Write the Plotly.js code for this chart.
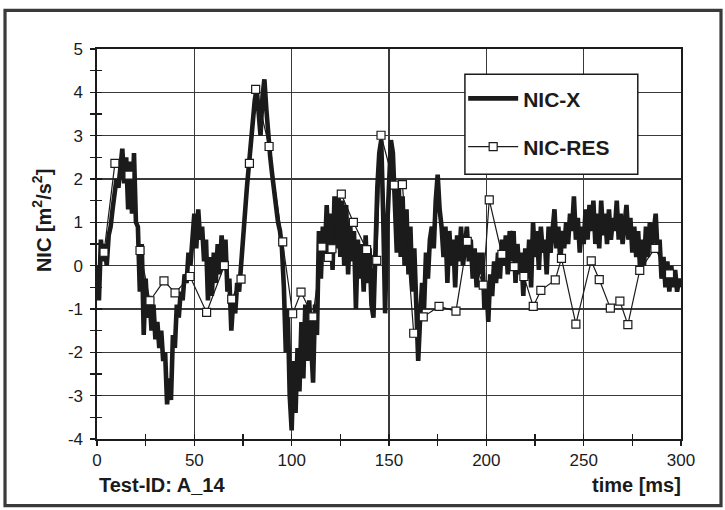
<!DOCTYPE html>
<html>
<head>
<meta charset="utf-8">
<script src="https://cdn.plot.ly/plotly-3.0.1.min.js"></script>
<style>
  html, body { margin: 0; padding: 0; background: #ffffff; }
  #chart { width: 725px; height: 510px; }
</style>
</head>
<body>
<div id="chart"></div>
<script>
// NIC-X, sampled every 1 ms from 0 to 300 ms
const nicXTime = Array.from({length: 301}, (_, i) => i);
const nicXValues = [
  0.0, -0.8, 0.6, 0.1, 0.5, 0.0, 0.7, 0.9, 1.3, 1.6,
  2.0, 1.8, 2.4, 2.7, 1.9, 2.5, 1.3, 2.4, 1.2, 2.6,
  1.0, 0.9, -0.6, 0.5, -1.6, -0.3, -1.2, -0.7, -1.5, -0.9,
  -1.7, -1.3, -1.9, -1.5, -2.2, -2.0, -3.2, -2.6, -3.1, -1.6,
  -1.9, -0.9, -1.2, -0.6, -0.8, -0.2, -0.4, 0.3, 0.0, 0.5,
  1.2, 0.4, 1.3, 0.6, 0.9, 0.1, 0.6, -0.8, 0.2, -0.7,
  0.3, -0.4, 0.5, -0.2, 0.7, 0.1, 0.6, -0.6, -0.3, -1.5,
  -0.8, -1.1, -0.4, -0.6, 0.1, 0.4, 1.2, 1.8, 2.3, 2.9,
  3.4, 3.8, 4.1, 3.5, 3.0, 3.9, 4.3, 3.6, 2.9, 2.5,
  2.1, 1.7, 1.4, 1.0, 0.8, 0.4, -0.5, -2.0, -1.0, -3.0,
  -3.8, -2.2, -3.4, -1.9, -2.9, -1.3, -2.6, -0.9, -2.2, -0.8,
  -1.8, -2.7, -0.9, -1.6, 0.8, -0.3, 0.9, 0.2, 1.4, 0.3,
  1.2, -0.1, 1.6, 0.4, 1.6, 0.2, 1.5, 0.0, 1.4, -0.2,
  1.0, 0.1, 0.8, -1.0, 0.6, -0.3, 0.5, -0.6, 0.7, -0.4,
  0.4, -0.9, -1.2, 0.5, 1.8, 2.6, 2.9, 1.2, -1.1, 0.8,
  2.0, 2.9, 2.6, 1.4, 0.3, 1.9, 0.2, 1.6, 0.0, 1.3,
  -0.2, 0.9, -0.6, 0.4, -1.4, -2.2, -1.2, -0.4, -1.0, 0.3,
  -0.3, 0.6, 0.9, 0.4, 1.5, 2.1, 1.3, 0.9, 0.2, 0.9,
  -0.4, 0.8, 0.0, 0.6, -0.5, 0.7, 0.1, 0.9, 0.0, 0.5,
  0.9, 0.1, 0.6, -0.3, 0.4, -0.5, 0.3, -0.2, 0.3, -1.0,
  -0.4, -1.3, -0.2, -0.7, 0.1, -0.4, 0.3, -0.3, 0.6, 0.0,
  0.7, -0.2, 0.8, 0.1, 0.8, -0.4, 0.5, -0.2, 0.3, -0.7,
  0.4, -0.3, 0.6, -0.5, 1.0, 0.2, 0.8, -0.1, 0.9, 0.3,
  0.6, -0.2, 0.9, 0.3, 1.0, 1.3, 0.4, 0.9, 0.1, 0.8,
  0.4, 1.0, 0.5, 1.2, 0.8, 1.6, 0.6, 1.1, 0.3, 0.9,
  0.5, 1.3, 0.6, 1.4, 0.8, 1.5, 0.5, 1.2, 0.4, 1.5,
  0.7, 1.2, 0.5, 1.3, 0.6, 1.1, 0.8, 1.5, 0.6, 1.2,
  0.5, 1.0, 1.4, 0.6, 1.1, 0.3, 0.9, 0.2, 0.8, -0.1,
  0.6, 0.0, 0.9, 0.2, 1.0, 0.4, 0.9, 1.2, 0.3, 0.6,
  -0.3, 0.2, -0.5, 0.1, -0.6, 0.0, -0.5, -0.1, -0.6, -0.3,
  -0.5
];

// NIC-RES samples (ms, m²/s²)
const nicResTime = [
  3.6, 9.2, 16.4, 22.1, 27.2, 34.4, 40.1, 47.8, 56.3, 65.4,
  69.2, 74.0, 78.3, 81.5, 88.4, 95.4, 100.5, 104.8, 110.9, 115.6,
  118.8, 120.7, 125.5, 131.7, 138.5, 143.7, 145.9, 152.7, 156.9, 162.7,
  167.6, 175.7, 184.4, 190.2, 198.4, 201.5, 208.0, 214.3, 219.3, 224.1,
  228.0, 235.4, 238.6, 246.0, 253.9, 258.0, 263.7, 268.6, 272.7, 278.8,
  286.6, 294.1
];
const nicResValues = [
  0.31, 2.36, 2.09, 0.35, -0.81, -0.35, -0.63, -0.25, -1.08, 0.00,
  -0.77, -0.31, 2.36, 4.07, 2.75, 0.55, -1.11, -0.61, -1.18, 0.43,
  0.19, 0.39, 1.65, 1.00, 0.37, 0.12, 3.01, 1.86, 1.87, -1.56,
  -1.18, -0.94, -1.05, 0.56, -0.45, 1.52, 0.26, -0.02, -0.25, -0.94,
  -0.57, -0.33, 0.17, -1.35, 0.11, -0.32, -0.98, -0.82, -1.36, -0.11,
  0.40, -0.19
];

const xTickValues = [0, 50, 100, 150, 200, 250, 300];
const yTickValues = [-4, -3, -2, -1, 0, 1, 2, 3, 4, 5];

const FONT = 'Liberation Sans, Arial, Helvetica, sans-serif';
const INK = '#1b1b1b';

const traces = [
  {
    name: 'NIC-X',
    x: nicXTime,
    y: nicXValues,
    type: 'scatter',
    mode: 'lines',
    line: {color: INK, width: 4.6},
    legendgroup: 'a',
    hoverinfo: 'x+y'
  },
  {
    name: 'NIC-RES',
    x: nicResTime,
    y: nicResValues,
    type: 'scatter',
    mode: 'lines+markers',
    line: {color: INK, width: 1.2},
    marker: {symbol: 'square', size: 8, color: '#ffffff', line: {color: INK, width: 1.2}},
    legendgroup: 'b',
    hoverinfo: 'x+y'
  },
  // carrier for the inner half of the crossing ticks
  {
    x: [], y: [], xaxis: 'x2', yaxis: 'y2', type: 'scatter', mode: 'lines',
    showlegend: false, hoverinfo: 'skip'
  }
];

const axisFont = {family: FONT, size: 17, color: INK};

const layout = {
  width: 725,
  height: 510,
  margin: {l: 97, r: 44, t: 49, b: 71},
  paper_bgcolor: '#ffffff',
  plot_bgcolor: '#ffffff',
  font: {family: FONT, color: INK},
  showlegend: true,
  legend: {
    x: 0.627, xanchor: 'left',
    y: 0.925, yanchor: 'top',
    bgcolor: 'rgba(0,0,0,0)',
    borderwidth: 0,
    itemwidth: 50,
    tracegroupgap: 18,
    font: {family: FONT, size: 21, weight: 'bold', color: INK}
  },
  xaxis: {
    range: [0, 300],
    tickvals: xTickValues,
    ticktext: xTickValues.map(String),
    ticks: 'outside', ticklen: 5, tickwidth: 1.5, tickcolor: INK,
    minor: {dtick: 25, tick0: 0, ticks: 'outside', ticklen: 5, tickwidth: 1.5, tickcolor: INK, showgrid: false},
    showgrid: true, gridcolor: '#3a3a3a', gridwidth: 1.2,
    showline: true, linecolor: INK, linewidth: 1.6, mirror: true,
    zeroline: false,
    tickfont: axisFont,
    ticklabelstandoff: 0,
    fixedrange: true
  },
  yaxis: {
    range: [-4, 5],
    tickvals: yTickValues,
    ticktext: yTickValues.map(String),
    ticks: 'outside', ticklen: 5, tickwidth: 1.5, tickcolor: INK,
    minor: {dtick: 0.5, tick0: 0, ticks: 'outside', ticklen: 5, tickwidth: 1.5, tickcolor: INK, showgrid: false},
    showgrid: true, gridcolor: '#3a3a3a', gridwidth: 1.2,
    showline: true, linecolor: INK, linewidth: 1.6, mirror: true,
    zeroline: false,
    tickfont: axisFont,
    ticklabelstandoff: 4,
    fixedrange: true
  },
  xaxis2: {
    overlaying: 'x', anchor: 'y2', side: 'bottom',
    range: [0, 300], dtick: 25, tick0: 0,
    ticks: 'inside', ticklen: 5, tickwidth: 1.5, tickcolor: INK,
    showticklabels: false, showgrid: false, showline: false, zeroline: false,
    fixedrange: true
  },
  yaxis2: {
    overlaying: 'y', anchor: 'x2', side: 'left',
    range: [-4, 5], dtick: 0.5, tick0: 0,
    ticks: 'inside', ticklen: 5, tickwidth: 1.5, tickcolor: INK,
    showticklabels: false, showgrid: false, showline: false, zeroline: false,
    fixedrange: true
  },
  shapes: [
    // outer frame
    {type: 'rect', xref: 'paper', yref: 'paper',
     x0: -0.1575, x1: 1.0685, y0: -0.1708, y1: 1.099,
     line: {color: '#3a3a3a', width: 3.2}, fillcolor: 'rgba(0,0,0,0)', layer: 'below'},
    // legend box
    {type: 'rect', xref: 'paper', yref: 'paper',
     x0: 0.630, x1: 0.926, y0: 0.679, y1: 0.935,
     line: {color: INK, width: 1.5}, fillcolor: '#ffffff', layer: 'above'}
  ],
  annotations: [
    {text: '<b>NIC [m<sup>2</sup>/s<sup>2</sup>]</b>', xref: 'paper', yref: 'paper',
     x: -0.094, y: 0.559, xanchor: 'center', yanchor: 'middle', textangle: -90,
     showarrow: false, font: {family: FONT, size: 20, color: INK}},
    {text: '<b>Test-ID: A_14</b>', xref: 'paper', yref: 'paper',
     x: 0, y: -0.118, xanchor: 'left', yanchor: 'middle',
     showarrow: false, font: {family: FONT, size: 20, color: INK}},
    {text: '<b>time [ms]</b>', xref: 'paper', yref: 'paper',
     x: 1.0034, y: -0.118, xanchor: 'right', yanchor: 'middle',
     showarrow: false, font: {family: FONT, size: 20, color: INK}}
  ]
};

Plotly.newPlot('chart', traces, layout, {staticPlot: true, displayModeBar: false});
</script>
</body>
</html>
